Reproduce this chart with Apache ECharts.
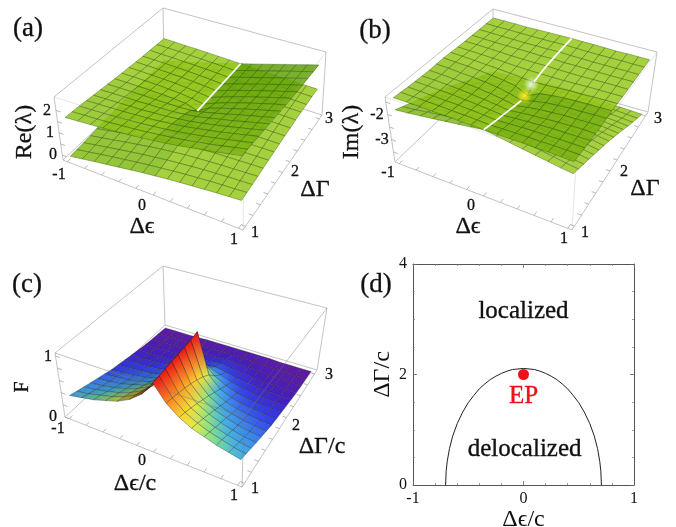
<!DOCTYPE html>
<html><head><meta charset="utf-8">
<style>html,body{margin:0;padding:0;background:#fff}#c{width:676px;height:527px;filter:blur(.3px)}</style>
<script src="https://cdn.jsdelivr.net/npm/echarts@6/dist/echarts.min.js"></script>
</head><body><div id="c"></div>
<script>
// ---------- values ----------
const epsGrid=[-1,-.857,-.714,-.571,-.429,-.286,-.143,0,.143,.286,.429,.571,.714,.857,1];
const gammaGrid=[1,1.143,1.286,1.429,1.571,1.714,1.857,2,2.143,2.286,2.429,2.571,2.714,2.857,3];
const reUpper=[
[1.62,1.65,1.68,1.72,1.76,1.80,1.85,1.91,1.97,2.04,2.12,2.20,2.28,2.37,2.46],
[1.60,1.63,1.65,1.68,1.72,1.76,1.81,1.87,1.93,2.00,2.08,2.16,2.25,2.35,2.44],
[1.58,1.60,1.62,1.65,1.68,1.72,1.77,1.82,1.89,1.96,2.04,2.13,2.22,2.32,2.42],
[1.55,1.57,1.59,1.61,1.64,1.67,1.71,1.77,1.83,1.91,2.00,2.09,2.19,2.29,2.39],
[1.52,1.53,1.55,1.56,1.58,1.61,1.64,1.70,1.76,1.85,1.94,2.04,2.15,2.25,2.36],
[1.49,1.50,1.51,1.51,1.53,1.54,1.56,1.61,1.68,1.78,1.89,1.99,2.11,2.22,2.33],
[1.46,1.46,1.47,1.47,1.46,1.46,1.46,1.49,1.58,1.70,1.82,1.95,2.07,2.18,2.30],
[1.43,1.43,1.43,1.42,1.40,1.38,1.34,1.17,1.46,1.62,1.76,1.90,2.03,2.15,2.27],
[1.40,1.40,1.39,1.38,1.35,1.32,1.26,1.17,1.38,1.56,1.71,1.86,1.99,2.12,2.24],
[1.38,1.37,1.36,1.34,1.32,1.28,1.23,1.17,1.35,1.52,1.68,1.82,1.96,2.09,2.22],
[1.35,1.34,1.33,1.31,1.29,1.26,1.22,1.17,1.34,1.50,1.65,1.79,1.93,2.06,2.19],
[1.33,1.32,1.31,1.29,1.27,1.24,1.21,1.17,1.33,1.48,1.63,1.77,1.91,2.04,2.17],
[1.32,1.30,1.29,1.27,1.25,1.23,1.20,1.17,1.32,1.47,1.61,1.75,1.89,2.02,2.16],
[1.30,1.29,1.28,1.26,1.24,1.22,1.20,1.17,1.32,1.46,1.60,1.74,1.88,2.01,2.14],
[1.29,1.28,1.26,1.25,1.23,1.21,1.19,1.17,1.31,1.45,1.59,1.73,1.86,2.00,2.13]];
const reLower=[
[-.12,-.03,.06,.14,.22,.30,.37,.43,.49,.54,.58,.62,.66,.69,.72],
[-.10,-.01,.09,.18,.26,.34,.41,.47,.53,.58,.62,.66,.69,.71,.74],
[-.08,.02,.12,.21,.30,.38,.45,.52,.57,.62,.66,.69,.72,.74,.76],
[-.05,.05,.15,.25,.34,.43,.51,.57,.63,.67,.70,.73,.75,.77,.79],
[-.02,.09,.19,.30,.40,.49,.58,.64,.70,.73,.76,.78,.79,.81,.82],
[.01,.12,.23,.35,.45,.56,.66,.73,.78,.80,.81,.83,.83,.84,.85],
[.04,.16,.27,.39,.52,.64,.76,.85,.88,.88,.88,.87,.87,.88,.88],
[.07,.19,.31,.44,.58,.72,.88,1.17,1.00,.96,.94,.92,.91,.91,.91],
[.10,.22,.35,.48,.63,.78,.96,1.17,1.08,1.02,.99,.96,.95,.94,.94],
[.12,.25,.38,.52,.66,.82,.99,1.17,1.11,1.06,1.02,1.00,.98,.97,.96],
[.15,.28,.41,.55,.69,.84,1.00,1.17,1.12,1.08,1.05,1.03,1.01,1.00,.99],
[.17,.30,.43,.57,.71,.86,1.01,1.17,1.13,1.10,1.07,1.05,1.03,1.02,1.01],
[.18,.32,.45,.59,.73,.87,1.02,1.17,1.14,1.11,1.09,1.07,1.05,1.04,1.02],
[.20,.33,.46,.60,.74,.88,1.02,1.17,1.14,1.12,1.10,1.08,1.06,1.05,1.04],
[.21,.34,.48,.61,.75,.89,1.03,1.17,1.15,1.13,1.11,1.09,1.08,1.06,1.05]];
// panels (b) and (c) look mirror-symmetric: rows hold the values at |Δε| = 0 … 1
const imUpperAbs=[
[-1.38,-1.37,-1.37,-1.36,-1.37,-1.36,-1.37,-1.38],
[-1.46,-1.44,-1.43,-1.42,-1.41,-1.40,-1.40,-1.40],
[-1.54,-1.51,-1.48,-1.46,-1.45,-1.44,-1.43,-1.43],
[-1.61,-1.57,-1.53,-1.50,-1.47,-1.46,-1.45,-1.44],
[-1.69,-1.63,-1.58,-1.54,-1.50,-1.48,-1.46,-1.46],
[-1.77,-1.68,-1.61,-1.56,-1.52,-1.50,-1.48,-1.47],
[-1.84,-1.71,-1.61,-1.56,-1.52,-1.50,-1.47,-1.46],
[-1.92,-1.68,-1.60,-1.55,-1.51,-1.48,-1.47,-1.45],
[-1.63,-1.62,-1.58,-1.54,-1.53,-1.50,-1.48,-1.47],
[-1.57,-1.57,-1.56,-1.54,-1.52,-1.51,-1.50,-1.49],
[-1.53,-1.54,-1.54,-1.54,-1.52,-1.51,-1.50,-1.50],
[-1.51,-1.53,-1.52,-1.52,-1.52,-1.52,-1.51,-1.50],
[-1.50,-1.52,-1.52,-1.53,-1.52,-1.52,-1.51,-1.51],
[-1.50,-1.51,-1.52,-1.52,-1.52,-1.51,-1.52,-1.51],
[-1.50,-1.51,-1.51,-1.52,-1.53,-1.52,-1.52,-1.52]];
const imLowerAbs=[
[-1.38,-1.45,-1.53,-1.60,-1.67,-1.74,-1.81,-1.86],
[-1.46,-1.54,-1.63,-1.70,-1.77,-1.84,-1.92,-1.98],
[-1.54,-1.63,-1.72,-1.80,-1.89,-1.96,-2.03,-2.09],
[-1.61,-1.71,-1.81,-1.90,-1.99,-2.06,-2.13,-2.20],
[-1.69,-1.81,-1.92,-2.02,-2.10,-2.18,-2.26,-2.32],
[-1.77,-1.92,-2.03,-2.14,-2.24,-2.32,-2.38,-2.45],
[-1.84,-2.03,-2.17,-2.28,-2.36,-2.44,-2.51,-2.58],
[-1.92,-2.20,-2.34,-2.43,-2.51,-2.58,-2.65,-2.71],
[-2.41,-2.46,-2.54,-2.62,-2.69,-2.76,-2.82,-2.87],
[-2.67,-2.71,-2.76,-2.82,-2.88,-2.93,-2.98,-3.03],
[-2.91,-2.94,-2.98,-3.02,-3.06,-3.11,-3.16,-3.20],
[-3.13,-3.15,-3.18,-3.22,-3.26,-3.30,-3.33,-3.38],
[-3.34,-3.36,-3.38,-3.41,-3.44,-3.48,-3.51,-3.55],
[-3.54,-3.55,-3.58,-3.60,-3.62,-3.65,-3.68,-3.71],
[-3.74,-3.75,-3.78,-3.79,-3.83,-3.84,-3.86,-3.88]];
const fAbs=[
[1.03,.78,.63,.53,.47,.41,.37,.33],
[1.04,.76,.60,.50,.43,.38,.33,.30],
[1.05,.73,.56,.46,.39,.34,.30,.27],
[1.06,.70,.52,.42,.35,.30,.26,.24],
[1.07,.66,.47,.37,.31,.26,.23,.21],
[1.08,.61,.42,.32,.26,.22,.20,.18],
[1.09,.55,.36,.27,.22,.19,.17,.15],
[1.12,.47,.30,.22,.18,.16,.14,.13],
[.50,.34,.24,.18,.15,.13,.12,.11],
[.30,.24,.18,.14,.12,.10,.09,.09],
[.20,.17,.13,.11,.09,.08,.07,.07],
[.14,.12,.10,.08,.07,.06,.06,.05],
[.09,.08,.07,.06,.05,.05,.04,.04],
[.06,.05,.05,.04,.04,.03,.03,.03],
[.03,.03,.03,.03,.02,.02,.02,.02]];
const boundaryEps=[-.705,-.70,-.69,-.67,-.64,-.60,-.55,-.50,-.45,-.40,-.35,-.30,-.25,-.20,-.15,-.10,-.05,0,.05,.10,.15,.20,.25,.30,.35,.40,.45,.50,.55,.60,.64,.67,.69,.70,.705];
const boundaryGamma=[0,.25,.43,.66,.89,1.11,1.32,1.49,1.62,1.74,1.83,1.91,1.97,2.02,2.06,2.09,2.10,2.11,2.10,2.09,2.06,2.02,1.97,1.91,1.83,1.74,1.62,1.49,1.32,1.11,.89,.66,.43,.25,0];
const epPoint=[0,2];
const epsTicks=[-1,-.8,-.6,-.4,-.2,0,.2,.4,.6,.8,1];
const gammaTicks=[1,1.2,1.4,1.6,1.8,2,2.2,2.4,2.6,2.8,3];
const reTicks=[0,.5,1,1.5,2];
const imTicks=[-3.5,-3,-2.5,-2,-1.5];
const fTicks=[0,.2,.4,.6,.8,1];
const epsTickLabels=['-1','0','1'];
const gammaTickLabels=['1','2','3'];
const reTickLabels=['0','1','2'];
const imTickLabels=['-3','-2'];
const fTickLabels=['0','1'];

// ---------- box geometry (layout) ----------
const panels={
 a:{bot:[[63,160],[164,65],[322,115],[243,230]],top:[[54,97],[163,8],[326,52],[244,157]],z:[-.22,2.6]},
 b:{bot:[[395,162],[493,68],[648,112],[572,230]],top:[[385,97],[493,9],[657,52],[576,165]],z:[-3.9,-1.3]},
 c:{bot:[[65,417],[165,325],[317,370],[242,487]],top:[[55,353],[163,266],[327,308],[244,417]],z:[0,1.05]}
};
const E0=-1.05,E1=1.05,G0=.93,G1=3.07;
function project(p,e,g,z){
 const u=(e-E0)/(E1-E0),v=(g-G0)/(G1-G0),w=(z-p.z[0])/(p.z[1]-p.z[0]);
 const bl=(q,k)=>(1-u)*(1-v)*q[0][k]+(1-u)*v*q[1][k]+u*v*q[2][k]+u*(1-v)*q[3][k];
 return [0,1].map(k=>bl(p.bot,k)*(1-w)+bl(p.top,k)*w);
}
const full=r=>(i,j)=>r[j][i];
const mirror=r=>(i,j)=>r[j][Math.abs(i-7)];
const cells=[];
for(let j=13;j>=0;j--)for(let i=0;i<14;i++)cells.push([i,j]);

const LIGHT=[150,201,29],DARK=[86,153,4];
const mix=(a,b,t)=>a.map((x,k)=>Math.round(x+(b[k]-x)*t));
const STOPS=[[0,[105,25,150]],[.07,[70,30,190]],[.14,[50,60,230]],[.23,[60,130,235]],[.33,[70,180,225]],[.42,[130,225,140]],[.52,[230,235,70]],[.62,[250,210,50]],[.8,[250,120,30]],[1,[235,25,25]]];
function rainbow(z){
 for(let k=1;k<STOPS.length;k++) if(z<=STOPS[k][0]){
  const a=STOPS[k-1],b=STOPS[k];return mix(a[1],b[1],Math.max(0,(z-a[0])/(b[0]-a[0])));
 }
 return STOPS[STOPS.length-1][1];
}
function surface(p,val,shade){
 return {type:'custom',coordinateSystem:'cartesian2d',xAxisIndex:0,yAxisIndex:0,data:cells,clip:false,silent:true,
  renderItem(params,api){
   const i=api.value(0),j=api.value(1);
   const pts=[[i,j],[i+1,j],[i+1,j+1],[i,j+1]].map(([a,b])=>api.coord(project(p,epsGrid[a],gammaGrid[b],val(a,b))));
   const c=mix(LIGHT,DARK,shade(i,j));
   return {type:'polygon',shape:{points:pts},style:{fill:`rgba(${c},.85)`,stroke:'rgba(50,80,10,.55)',lineWidth:.7}};
  }};
}
function rainbowSurface(p,val){
 const edge=(i,j,cell)=>{
  let c=rainbow((val(i,j)+val(i,j+1))/2);
  if(cell<7){const sl=((val(cell+1,j)+val(cell+1,j+1))-(val(cell,j)+val(cell,j+1)))*3.5;
   c=c.map(x=>Math.round(x*(1-.55*Math.min(1,Math.max(0,sl)/1.2))));}
  return `rgb(${c})`;
 };
 return {type:'custom',coordinateSystem:'cartesian2d',xAxisIndex:0,yAxisIndex:0,data:cells,clip:false,silent:true,
  renderItem(params,api){
   const i=api.value(0),j=api.value(1);
   const pts=[[i,j],[i+1,j],[i+1,j+1],[i,j+1]].map(([a,b])=>api.coord(project(p,epsGrid[a],gammaGrid[b],val(a,b))));
   const fill={type:'linear',global:true,x:(pts[0][0]+pts[3][0])/2,y:(pts[0][1]+pts[3][1])/2,x2:(pts[1][0]+pts[2][0])/2,y2:(pts[1][1]+pts[2][1])/2,
    colorStops:[{offset:0,color:edge(i,j,i)},{offset:1,color:edge(i+1,j,i)}]};
   return {type:'polygon',shape:{points:pts},style:{fill,stroke:'rgba(35,35,35,.55)',lineWidth:.6}};
  }};
}
const segSeries=(segs,style)=>({type:'custom',coordinateSystem:'cartesian2d',xAxisIndex:0,yAxisIndex:0,data:segs.map((s,k)=>[k,0]),clip:false,silent:true,
 renderItem(params,api){
  const s=segs[api.value(0)];
  return {type:'polyline',shape:{points:s.map(q=>api.coord(q))},style:Object.assign({fill:null},style)};
 }});
function frame(p,back){
 const Z0=p.z[0],Z1=p.z[1];
 const A0=project(p,E0,G0,Z0),B0=project(p,E0,G1,Z0),C0=project(p,E1,G1,Z0),D0=project(p,E1,G0,Z0);
 const A1=project(p,E0,G0,Z1),B1=project(p,E0,G1,Z1),C1=project(p,E1,G1,Z1),D1=project(p,E1,G0,Z1);
 return back?[[A0,B0],[B0,C0],[B0,B1],[A1,B1],[B1,C1],[A0,A1],[C0,C1],[A0,D0],[D0,C0]]:[[A1,D1],[D1,C1],[D0,D1]];
}
function ticks(p,zt){
 const Z0=p.z[0],s=[];
 epsTicks.forEach(e=>s.push([project(p,e,G0,Z0),project(p,e,G0+.07,Z0)]));
 gammaTicks.forEach(g=>s.push([project(p,E1,g,Z0),project(p,E1-.05,g,Z0)]));
 zt.forEach(z=>s.push([project(p,E0,G0,z),project(p,E0+.05,G0,z)]));
 return s;
}
const BOX={stroke:'#c4c4c4',lineWidth:1};
const TICK={stroke:'#9a9a9a',lineWidth:.7};
const WHITE={stroke:'#fff',lineWidth:1.8};
const ridge=(p,val,from,to)=>{const o=[];for(let j=from;j<=to;j++)o.push(project(p,0,gammaGrid[j],val(7,j)));return o;};
const pa=panels.a,pb=panels.b,pc=panels.c;
const glow=(p,e,g,z,r,col)=>({type:'custom',coordinateSystem:'cartesian2d',xAxisIndex:0,yAxisIndex:0,data:[[0,0]],clip:false,silent:true,
 renderItem(params,api){const q=api.coord(project(p,e,g,z));
  return {type:'circle',shape:{cx:q[0],cy:q[1],r},style:{fill:{type:'radial',x:.5,y:.5,r:.5,colorStops:[{offset:0,color:col},{offset:1,color:col.replace(/[\d.]+\)$/,'0)')}]}}};}});
function SERIF(){return '"Liberation Serif","DejaVu Serif",serif';}
const INK='#111';

const series=[
 segSeries(frame(pa,true),BOX),segSeries(ticks(pa,reTicks),TICK),
 surface(pa,full(reLower),(i,j)=>i<7?.3:0),
 surface(pa,full(reUpper),(i,j)=>i>=7?.4+.45*j/13:(j<7?.12:0)),
 segSeries([ridge(pa,full(reUpper),7,14)],WHITE),
 segSeries(frame(pa,false),{stroke:'rgba(170,170,170,.3)',lineWidth:1}),

 segSeries(frame(pb,true),BOX),segSeries(ticks(pb,imTicks),TICK),
 surface(pb,mirror(imLowerAbs),(i,j)=>i<7?.35:0),
 surface(pb,mirror(imUpperAbs),(i,j)=>(i>=7&&j<7)?.45:(j<7?.12:0)),
 segSeries([ridge(pb,mirror(imUpperAbs),0,6),ridge(pb,mirror(imUpperAbs),8,14)],WHITE),
 glow(pb,0,1.93,-1.8,8,'rgba(255,235,40,1)'),
 glow(pb,0,2.08,-1.62,8,'rgba(235,250,225,1)'),
 segSeries(frame(pb,false),{stroke:'rgba(170,170,170,.3)',lineWidth:1}),

 segSeries(frame(pc,true),BOX),segSeries(ticks(pc,fTicks),TICK),
 rainbowSurface(pc,mirror(fAbs)),
 segSeries(frame(pc,false),{stroke:'rgba(120,120,120,.45)',lineWidth:1}),

 {type:'line',xAxisIndex:1,yAxisIndex:1,data:boundaryEps.map((x,k)=>[x,boundaryGamma[k]]),showSymbol:false,smooth:false,silent:true,lineStyle:{color:'#222',width:1}},
 {type:'scatter',xAxisIndex:1,yAxisIndex:1,data:[epPoint],symbolSize:11,itemStyle:{color:'#f0101a',opacity:1},silent:true},
 {type:'scatter',xAxisIndex:1,yAxisIndex:1,symbolSize:0,silent:true,itemStyle:{opacity:1},
  data:[{value:[0,3.15],name:'localized'},{value:[.01,.64],name:'delocalized'},{value:[0,1.61],name:'EP',label:{color:'#f0101a',textBorderColor:'#f0101a'}}],
  label:{show:true,position:'inside',formatter:'{b}',fontFamily:SERIF(),fontSize:25,color:INK,opacity:1,textBorderColor:INK,textBorderWidth:.35}}
];

// ---------- text ----------
const txt=(text,x,y,size,rot)=>({type:'text',x,y,rotation:rot||0,silent:true,
 style:{text,fontFamily:SERIF(),fontSize:size,fill:INK,stroke:INK,lineWidth:.3,align:'center',verticalAlign:'middle'}});
const T=16,R=Math.PI/2;
const graphic=[
 txt('(a)',28,29,27),txt('(b)',375,31,27),txt('(c)',27,285,27),txt('(d)',376,285,27),
 txt('Re(λ)',25,132,24,R),txt('Im(λ)',352,132,24,R),txt('F',23,387,20,R),
 txt('Δϵ',142,227,24),txt('Δϵ',468,227,24),txt('Δϵ/c',135,484,24),
 txt('ΔΓ',315,190,24),txt('ΔΓ',645,189,24),txt('ΔΓ/c',322,447,24),
 txt(epsTickLabels[0],59,175,T),txt(epsTickLabels[1],142,206,T),txt(epsTickLabels[2],234,240,T),
 txt(gammaTickLabels[0],255,233,T),txt(gammaTickLabels[1],295,172,T),txt(gammaTickLabels[2],329,119,T),
 txt(reTickLabels[0],53,155,T),txt(reTickLabels[1],50,133,T),txt(reTickLabels[2],47,111,T),
 txt(epsTickLabels[0],388,173,T),txt(epsTickLabels[1],471,206,T),txt(epsTickLabels[2],564,239,T),
 txt(gammaTickLabels[0],585,233,T),txt(gammaTickLabels[1],624,172,T),txt(gammaTickLabels[2],658,119,T),
 txt(imTickLabels[0],382,140,T),txt(imTickLabels[1],377,115,T),
 txt(epsTickLabels[0],58,429,T),txt(epsTickLabels[1],142,461,T),txt(epsTickLabels[2],234,496,T),
 txt(gammaTickLabels[0],255,489,T),txt(gammaTickLabels[1],296,426,T),txt(gammaTickLabels[2],329,375,T),
 txt(fTickLabels[0],53,417,T),txt(fTickLabels[1],48,357,T)
];
const hide={show:false};
const LINE={show:true,onZero:false,lineStyle:{color:'#555',width:1}};
const tick=(n)=>({axisTick:{show:true,inside:true,length:4,lineStyle:{color:'#666',width:.8}},minorTick:{show:true,splitNumber:n,length:2,lineStyle:{color:'#777',width:.7}}});
const lab={fontFamily:SERIF(),fontSize:16,color:INK};
const chart=echarts.init(document.getElementById('c'),null,{renderer:'canvas',width:676,height:527});
chart.setOption({
 animation:false,backgroundColor:'#fff',
 grid:[{left:0,top:0,width:676,height:527,show:false,outerBoundsMode:'none'},{left:413,top:264,width:221,height:221,show:false,outerBoundsMode:'none'}],
 xAxis:[
  {type:'value',gridIndex:0,min:0,max:676,show:false},
  Object.assign({type:'value',gridIndex:1,min:-1,max:1,interval:1,position:'bottom',axisLine:LINE,splitLine:hide,axisLabel:Object.assign({margin:6},lab),
   name:'Δϵ/c',nameLocation:'middle',nameGap:20,nameTextStyle:{fontFamily:SERIF(),fontSize:24,color:INK}},tick(5)),
  Object.assign({type:'value',gridIndex:1,min:-1,max:1,interval:1,position:'top',axisLine:LINE,splitLine:hide,axisLabel:hide},tick(5))
 ],
 yAxis:[
  {type:'value',gridIndex:0,min:0,max:527,inverse:true,show:false},
  Object.assign({type:'value',gridIndex:1,min:0,max:4,interval:2,position:'left',axisLine:LINE,splitLine:hide,axisLabel:Object.assign({margin:6},lab),
   name:'ΔΓ/c',nameLocation:'middle',nameGap:18,nameTextStyle:{fontFamily:SERIF(),fontSize:24,color:INK}},tick(4)),
  Object.assign({type:'value',gridIndex:1,min:0,max:4,interval:2,position:'right',axisLine:LINE,splitLine:hide,axisLabel:hide},tick(4))
 ],
 graphic,series
});
</script></body></html>
